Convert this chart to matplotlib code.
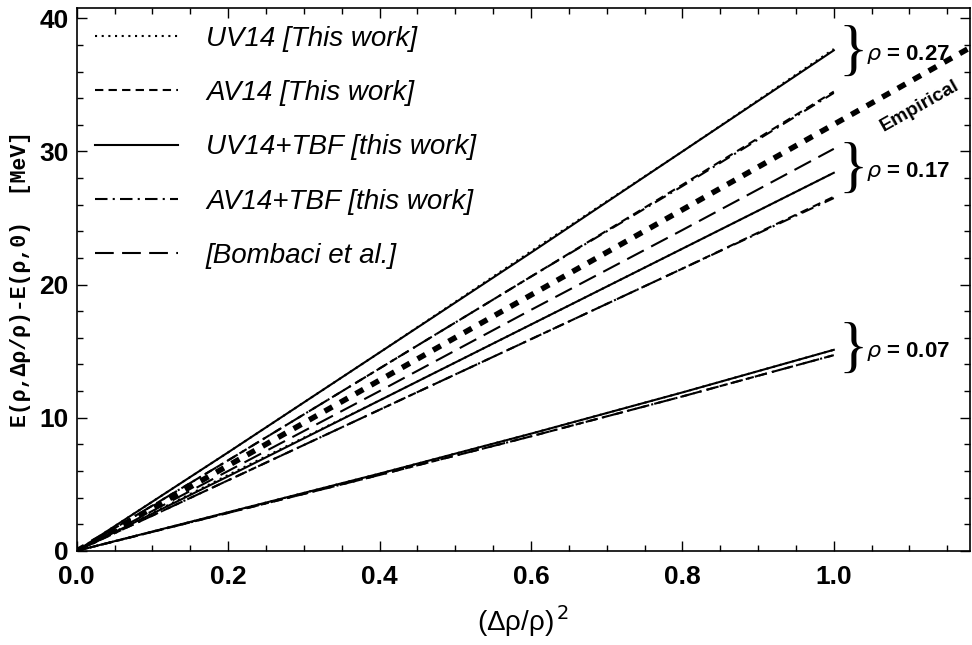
"""
symmetry energy vs (drho/rho)^2 for three densities
"""
import numpy as np
import matplotlib.pyplot as plt
from matplotlib.ticker import MultipleLocator

# asymmetry parameter (drho/rho)^2
x = [0.0, 0.2, 0.4, 0.6, 0.8, 1.0]

# rho = 0.27
uv14_027 = [0.0, 7.4, 14.9, 22.5, 30.0, 37.7]
av14_027 = [0.0, 6.8, 13.7, 20.6, 27.5, 34.5]
uv14tbf_027 = [0.0, 7.4, 14.9, 22.4, 30.0, 37.6]
av14tbf_027 = [0.0, 6.8, 13.7, 20.6, 27.4, 34.4]

# rho = 0.17
uv14_017 = [0.0, 5.7, 11.3, 17.0, 22.7, 28.4]
av14_017 = [0.0, 5.3, 10.6, 15.9, 21.2, 26.6]
uv14tbf_017 = [0.0, 5.6, 11.3, 17.0, 22.7, 28.4]
av14tbf_017 = [0.0, 5.3, 10.6, 15.9, 21.2, 26.5]
bombaci_017 = [0.0, 6.0, 12.0, 18.1, 24.1, 30.2]

# rho = 0.07
uv14_007 = [0.0, 2.9, 5.8, 8.8, 11.9, 15.1]
av14_007 = [0.0, 2.85, 5.7, 8.6, 11.6, 14.7]
uv14tbf_007 = [0.0, 2.9, 5.8, 8.8, 11.9, 15.1]
av14tbf_007 = [0.0, 2.85, 5.7, 8.6, 11.6, 14.7]

# empirical line
x_emp = [0.0, 1.18]
y_emp = [0.0, 37.8]

densities = ["0.27", "0.17", "0.07"]
brace_y = [37.3, 28.5, 15.0]

fig = plt.figure(figsize=(9.72, 6.45), dpi=100)
ax = fig.add_axes([0.079, 0.146, 0.919, 0.842])

dotted = (0, (1, 2.2))
dashed = (0, (4, 2.5))
dashdot = (0, (6, 2.5, 1, 2.5))
longdash = (0, (9, 4))
lw = 1.5

ax.plot(x, uv14tbf_027, color="black", lw=lw, ls="-")
ax.plot(x, uv14_027, color="black", lw=lw, ls=dotted, label="UV14 [This work]")
ax.plot(x, av14_027, color="black", lw=lw, ls=dashed, label="AV14 [This work]")
ax.plot(x, av14tbf_027, color="black", lw=lw, ls=dashdot)

ax.plot(x, uv14_017, color="black", lw=lw, ls=dotted)
ax.plot(x, av14_017, color="black", lw=lw, ls=dashed)
ax.plot(x, uv14tbf_017, color="black", lw=lw, ls="-", label="UV14+TBF [this work]")
ax.plot(x, av14tbf_017, color="black", lw=lw, ls=dashdot, label="AV14+TBF [this work]")
ax.plot(x, bombaci_017, color="black", lw=lw, ls=longdash, label="[Bombaci et al.]")

ax.plot(x, uv14_007, color="black", lw=lw, ls=dotted)
ax.plot(x, av14_007, color="black", lw=lw, ls=dashed)
ax.plot(x, uv14tbf_007, color="black", lw=lw, ls="-")
ax.plot(x, av14tbf_007, color="black", lw=lw, ls=dashdot)

ax.plot(x_emp, y_emp, color="black", lw=4, ls=(0, (1.6, 1.6)))
ax.text(1.113, 33.4, "Empirical", rotation=29.5, ha="center", va="center",
        fontsize=14, fontweight="bold", family="Liberation Sans",
        rotation_mode="anchor")

# braces with the density labels
for rho, yb in zip(densities, brace_y):
    ax.text(1.006, yb, "}", fontsize=44, ha="left", va="center",
            family="Liberation Serif")
    ax.text(1.042, yb, r"$\rho$ = " + rho, fontsize=16, ha="left", va="center",
            fontweight="bold", family="Liberation Sans")

ax.set_xlim(0, 1.18)
ax.set_ylim(0, 40.8)
ax.xaxis.set_major_locator(MultipleLocator(0.2))
ax.xaxis.set_minor_locator(MultipleLocator(0.05))
ax.yaxis.set_major_locator(MultipleLocator(10))
ax.yaxis.set_minor_locator(MultipleLocator(2))
ax.tick_params(which="both", direction="in", top=True, right=True, width=1)
ax.tick_params(which="major", length=7, labelsize=19)
ax.tick_params(axis="x", which="major", pad=10)
ax.tick_params(axis="y", which="major", pad=6)
ax.tick_params(which="minor", length=4)
for lab in ax.get_xticklabels() + ax.get_yticklabels():
    lab.set_fontweight("bold")
    lab.set_family("Liberation Sans")
for s in ax.spines.values():
    s.set_linewidth(1.2)

ax.set_xlabel("(Δρ/ρ)$^{\\,2}$", fontsize=20, labelpad=10,
              family="Liberation Sans")
ax.set_ylabel("E(ρ,Δρ/ρ)-E(ρ,0)  [MeV]", fontsize=15.5, fontweight="bold",
              family="Liberation Mono", labelpad=6)

leg = ax.legend(loc="upper left", frameon=False, handlelength=3.0,
                labelspacing=1.02, handletextpad=1.0,
                prop={"family": "Liberation Sans", "style": "italic", "size": 20},
                borderaxespad=0.3, borderpad=0.35)

fig.savefig("out.png", dpi=100)
